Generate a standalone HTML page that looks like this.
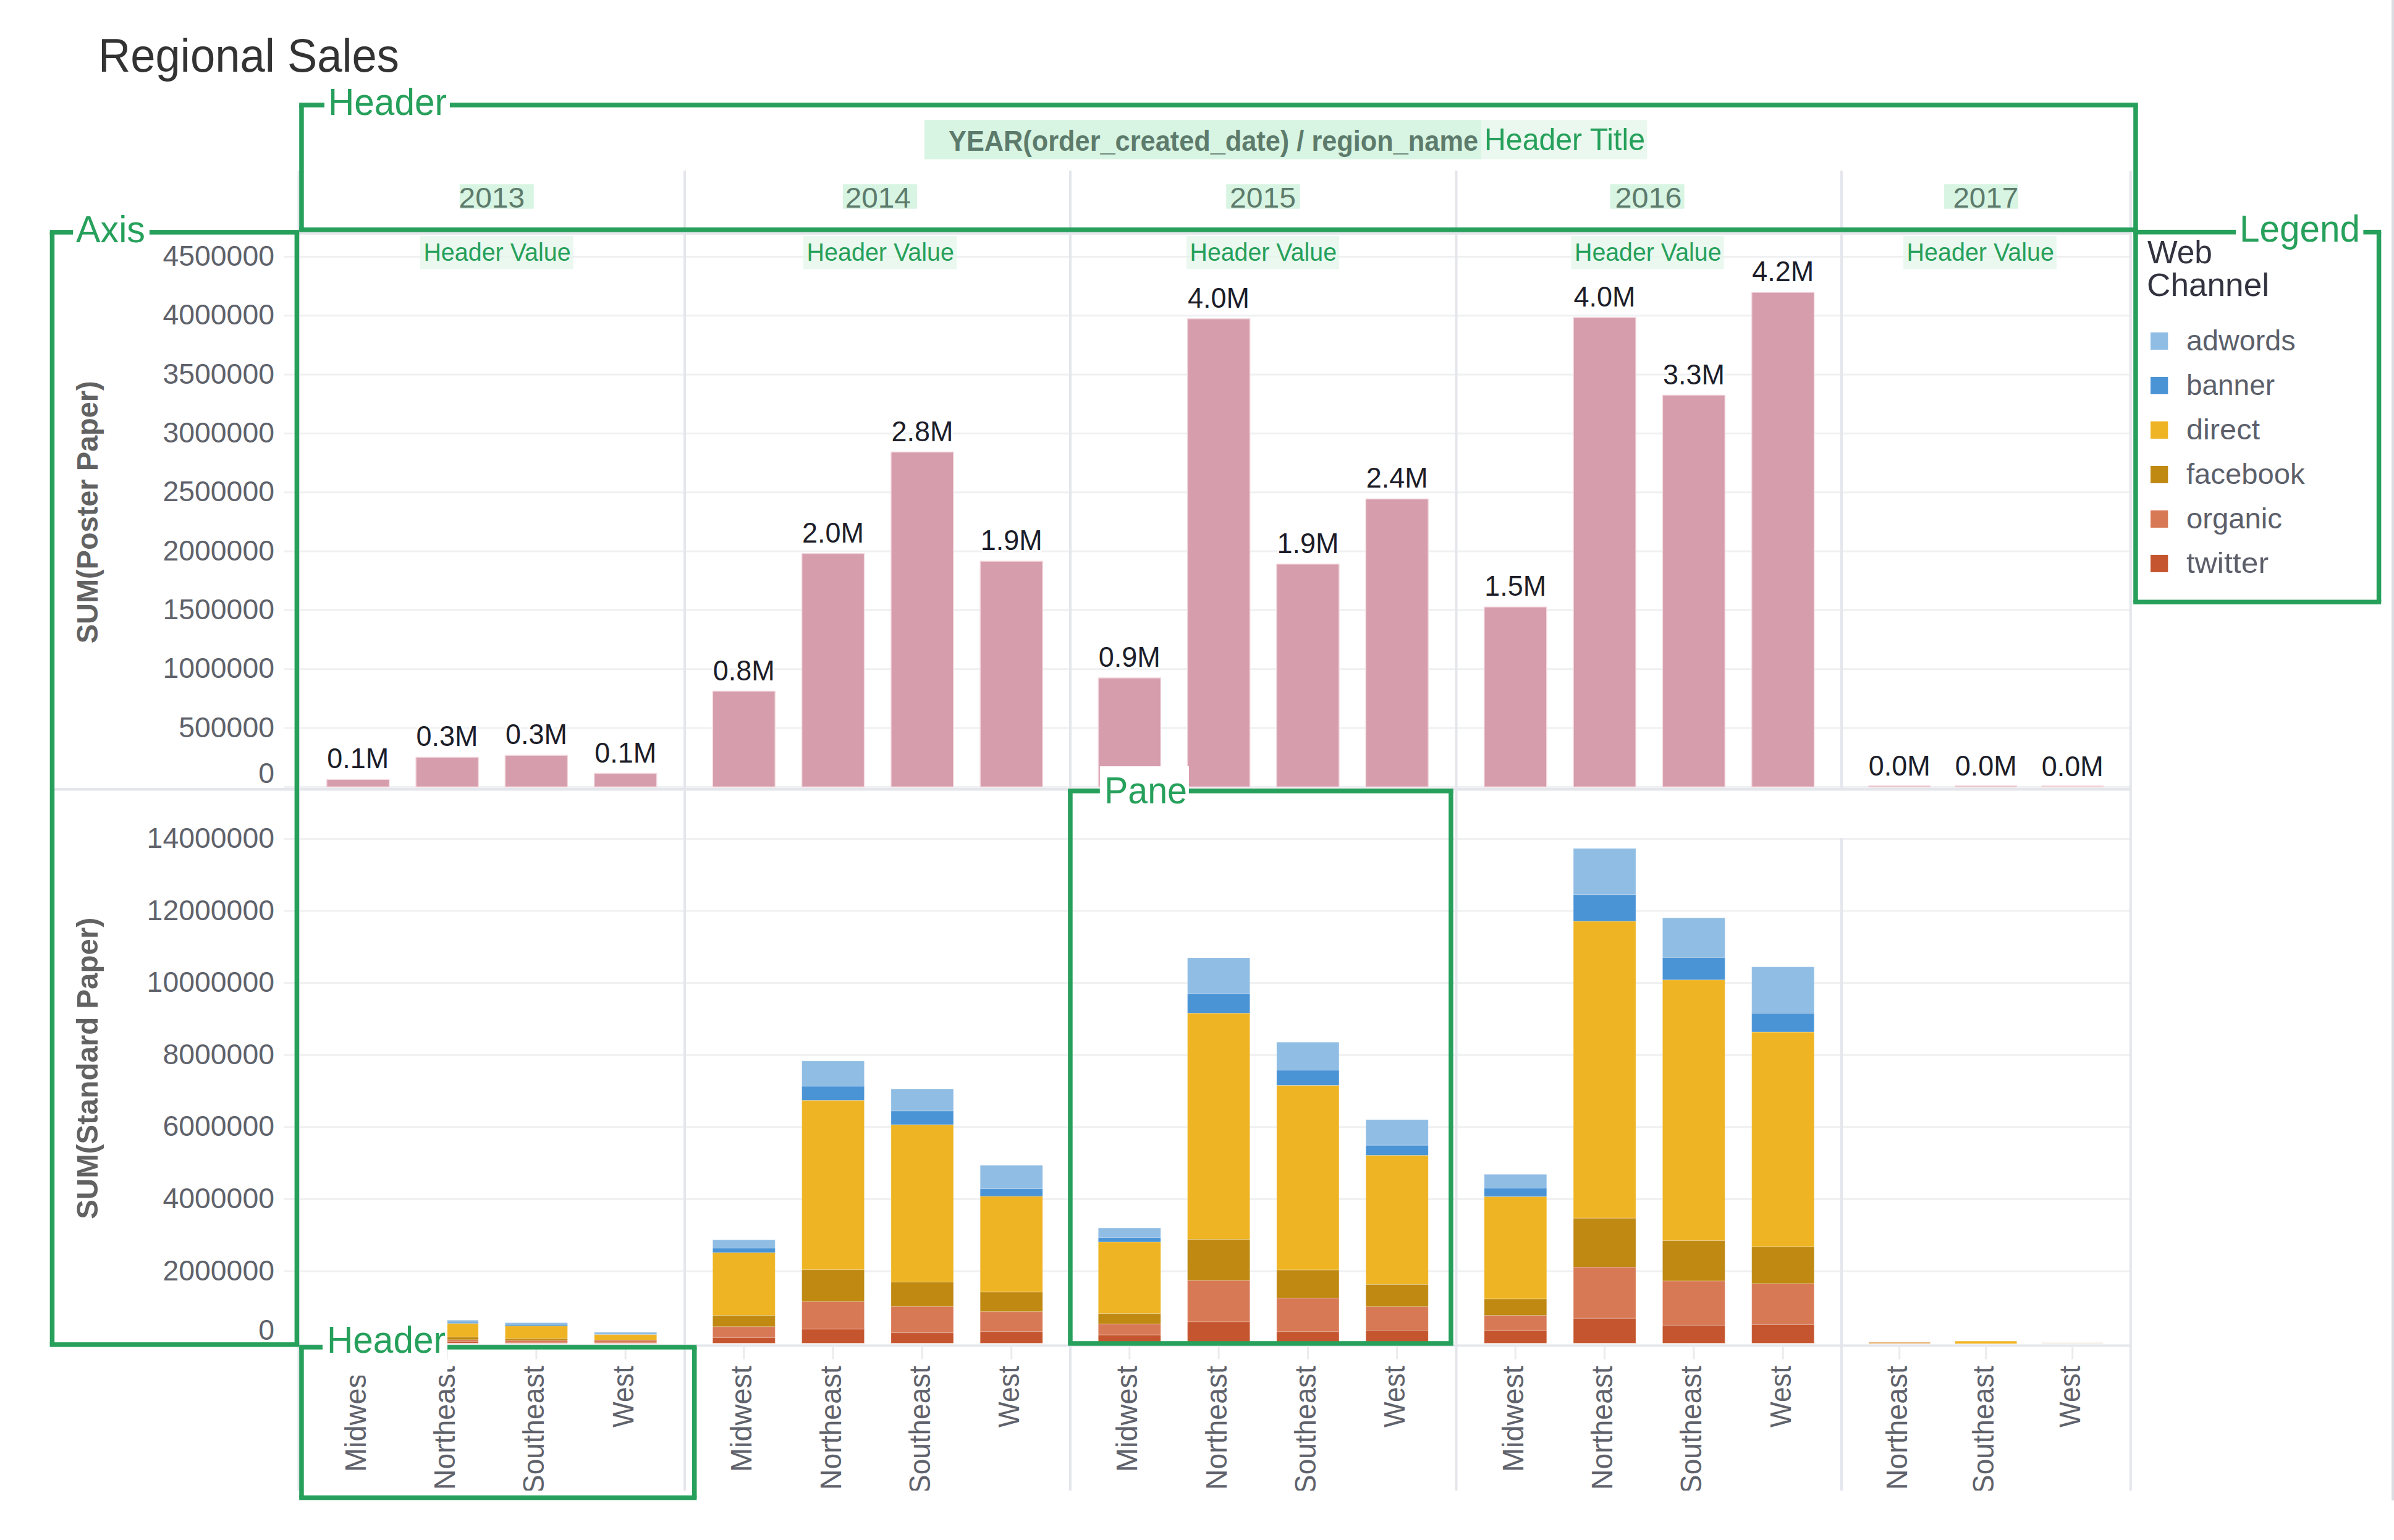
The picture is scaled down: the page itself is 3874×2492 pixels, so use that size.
<!DOCTYPE html>
<html><head><meta charset="utf-8"><title>Regional Sales</title>
<style>
html,body{margin:0;padding:0;background:#ffffff;}
body{width:3874px;height:2492px;overflow:hidden;position:relative;}
svg{position:absolute;left:0;top:0;display:block;font-family:"Liberation Sans", sans-serif;}
</style></head><body>
<svg width="3874" height="2492" viewBox="0 0 3874 2492">
<rect x="0" y="0" width="3874" height="2492" fill="#ffffff"/>
<rect x="459.0" y="1176.6" width="2988.0" height="3.0" fill="#eff0f2" />
<rect x="459.0" y="1081.2" width="2988.0" height="3.0" fill="#eff0f2" />
<rect x="459.0" y="985.9" width="2988.0" height="3.0" fill="#eff0f2" />
<rect x="459.0" y="890.6" width="2988.0" height="3.0" fill="#eff0f2" />
<rect x="459.0" y="795.3" width="2988.0" height="3.0" fill="#eff0f2" />
<rect x="459.0" y="699.9" width="2988.0" height="3.0" fill="#eff0f2" />
<rect x="459.0" y="604.6" width="2988.0" height="3.0" fill="#eff0f2" />
<rect x="459.0" y="509.3" width="2988.0" height="3.0" fill="#eff0f2" />
<rect x="459.0" y="413.9" width="2988.0" height="3.0" fill="#eff0f2" />
<rect x="459.0" y="2055.5" width="2988.0" height="3.0" fill="#eff0f2" />
<rect x="459.0" y="1938.9" width="2988.0" height="3.0" fill="#eff0f2" />
<rect x="459.0" y="1822.3" width="2988.0" height="3.0" fill="#eff0f2" />
<rect x="459.0" y="1705.7" width="2988.0" height="3.0" fill="#eff0f2" />
<rect x="459.0" y="1589.1" width="2988.0" height="3.0" fill="#eff0f2" />
<rect x="459.0" y="1472.5" width="2988.0" height="3.0" fill="#eff0f2" />
<rect x="459.0" y="1355.9" width="2988.0" height="3.0" fill="#eff0f2" />
<rect x="459.0" y="1271.9" width="2988.0" height="3.0" fill="#eff0f2" />
<rect x="481.5" y="276.0" width="4.0" height="2136.0" fill="#e4e6eb" />
<rect x="1106.0" y="276.0" width="4.0" height="2136.0" fill="#e4e6eb" />
<rect x="1730.0" y="276.0" width="4.0" height="2136.0" fill="#e4e6eb" />
<rect x="2354.5" y="276.0" width="4.0" height="2136.0" fill="#e4e6eb" />
<rect x="2978.0" y="276.0" width="4.0" height="1001.0" fill="#e4e6eb" />
<rect x="2978.0" y="1356.0" width="4.0" height="1056.0" fill="#e4e6eb" />
<rect x="3445.8" y="276.0" width="4.0" height="2136.0" fill="#e4e6eb" />
<rect x="484.0" y="375.8" width="2964.0" height="4.0" fill="#e4e6eb" />
<rect x="85.0" y="1275.0" width="3363.0" height="4.5" fill="#e4e6eb" />
<rect x="484.0" y="2175.5" width="2964.0" height="3.8" fill="#e4e6eb" />
<rect x="3870.0" y="0.0" width="4.0" height="2428.0" fill="#dcdde2" />
<rect x="528.8" y="1261.3" width="101.0" height="12.1" fill="#d69dac" stroke="#f3d9df" stroke-width="1.5"/>
<rect x="673.1" y="1225.4" width="101.0" height="48.0" fill="#d69dac" stroke="#f3d9df" stroke-width="1.5"/>
<rect x="817.4" y="1222.2" width="101.0" height="51.2" fill="#d69dac" stroke="#f3d9df" stroke-width="1.5"/>
<rect x="961.7" y="1251.5" width="101.0" height="21.9" fill="#d69dac" stroke="#f3d9df" stroke-width="1.5"/>
<rect x="1153.3" y="1118.5" width="101.0" height="154.9" fill="#d69dac" stroke="#f3d9df" stroke-width="1.5"/>
<rect x="1297.6" y="895.8" width="101.0" height="377.6" fill="#d69dac" stroke="#f3d9df" stroke-width="1.5"/>
<rect x="1441.9" y="731.5" width="101.0" height="541.9" fill="#d69dac" stroke="#f3d9df" stroke-width="1.5"/>
<rect x="1586.2" y="908.1" width="101.0" height="365.3" fill="#d69dac" stroke="#f3d9df" stroke-width="1.5"/>
<rect x="1777.3" y="1097.0" width="101.0" height="176.4" fill="#d69dac" stroke="#f3d9df" stroke-width="1.5"/>
<rect x="1921.6" y="515.8" width="101.0" height="757.6" fill="#d69dac" stroke="#f3d9df" stroke-width="1.5"/>
<rect x="2065.9" y="912.7" width="101.0" height="360.7" fill="#d69dac" stroke="#f3d9df" stroke-width="1.5"/>
<rect x="2210.2" y="807.4" width="101.0" height="466.0" fill="#d69dac" stroke="#f3d9df" stroke-width="1.5"/>
<rect x="2401.8" y="982.3" width="101.0" height="291.1" fill="#d69dac" stroke="#f3d9df" stroke-width="1.5"/>
<rect x="2546.1" y="513.8" width="101.0" height="759.6" fill="#d69dac" stroke="#f3d9df" stroke-width="1.5"/>
<rect x="2690.4" y="639.5" width="101.0" height="633.9" fill="#d69dac" stroke="#f3d9df" stroke-width="1.5"/>
<rect x="2834.7" y="473.0" width="101.0" height="800.4" fill="#d69dac" stroke="#f3d9df" stroke-width="1.5"/>
<rect x="3024.0" y="1271.5" width="99.5" height="1.9" fill="#d69dac" stroke="#f3d9df" stroke-width="1.5"/>
<rect x="3164.0" y="1271.5" width="99.5" height="1.9" fill="#d69dac" stroke="#f3d9df" stroke-width="1.5"/>
<rect x="3304.0" y="1271.8" width="99.5" height="1.6" fill="#d69dac" stroke="#f3d9df" stroke-width="1.5"/>
<text x="579.3" y="1243.3" font-size="46" fill="#1c1d29" text-anchor="middle" textLength="100.0" lengthAdjust="spacingAndGlyphs" stroke="#fff" stroke-width="6" paint-order="stroke" stroke-linejoin="round">0.1M</text>
<text x="723.6" y="1207.4" font-size="46" fill="#1c1d29" text-anchor="middle" textLength="100.0" lengthAdjust="spacingAndGlyphs" stroke="#fff" stroke-width="6" paint-order="stroke" stroke-linejoin="round">0.3M</text>
<text x="867.9" y="1204.2" font-size="46" fill="#1c1d29" text-anchor="middle" textLength="100.0" lengthAdjust="spacingAndGlyphs" stroke="#fff" stroke-width="6" paint-order="stroke" stroke-linejoin="round">0.3M</text>
<text x="1012.2" y="1233.5" font-size="46" fill="#1c1d29" text-anchor="middle" textLength="100.0" lengthAdjust="spacingAndGlyphs" stroke="#fff" stroke-width="6" paint-order="stroke" stroke-linejoin="round">0.1M</text>
<text x="1203.8" y="1100.5" font-size="46" fill="#1c1d29" text-anchor="middle" textLength="100.0" lengthAdjust="spacingAndGlyphs" stroke="#fff" stroke-width="6" paint-order="stroke" stroke-linejoin="round">0.8M</text>
<text x="1348.1" y="877.8" font-size="46" fill="#1c1d29" text-anchor="middle" textLength="100.0" lengthAdjust="spacingAndGlyphs" stroke="#fff" stroke-width="6" paint-order="stroke" stroke-linejoin="round">2.0M</text>
<text x="1492.4" y="713.5" font-size="46" fill="#1c1d29" text-anchor="middle" textLength="100.0" lengthAdjust="spacingAndGlyphs" stroke="#fff" stroke-width="6" paint-order="stroke" stroke-linejoin="round">2.8M</text>
<text x="1636.7" y="890.1" font-size="46" fill="#1c1d29" text-anchor="middle" textLength="100.0" lengthAdjust="spacingAndGlyphs" stroke="#fff" stroke-width="6" paint-order="stroke" stroke-linejoin="round">1.9M</text>
<text x="1827.8" y="1079.0" font-size="46" fill="#1c1d29" text-anchor="middle" textLength="100.0" lengthAdjust="spacingAndGlyphs" stroke="#fff" stroke-width="6" paint-order="stroke" stroke-linejoin="round">0.9M</text>
<text x="1972.1" y="497.8" font-size="46" fill="#1c1d29" text-anchor="middle" textLength="100.0" lengthAdjust="spacingAndGlyphs" stroke="#fff" stroke-width="6" paint-order="stroke" stroke-linejoin="round">4.0M</text>
<text x="2116.4" y="894.7" font-size="46" fill="#1c1d29" text-anchor="middle" textLength="100.0" lengthAdjust="spacingAndGlyphs" stroke="#fff" stroke-width="6" paint-order="stroke" stroke-linejoin="round">1.9M</text>
<text x="2260.7" y="789.4" font-size="46" fill="#1c1d29" text-anchor="middle" textLength="100.0" lengthAdjust="spacingAndGlyphs" stroke="#fff" stroke-width="6" paint-order="stroke" stroke-linejoin="round">2.4M</text>
<text x="2452.3" y="964.3" font-size="46" fill="#1c1d29" text-anchor="middle" textLength="100.0" lengthAdjust="spacingAndGlyphs" stroke="#fff" stroke-width="6" paint-order="stroke" stroke-linejoin="round">1.5M</text>
<text x="2596.6" y="495.8" font-size="46" fill="#1c1d29" text-anchor="middle" textLength="100.0" lengthAdjust="spacingAndGlyphs" stroke="#fff" stroke-width="6" paint-order="stroke" stroke-linejoin="round">4.0M</text>
<text x="2740.9" y="621.5" font-size="46" fill="#1c1d29" text-anchor="middle" textLength="100.0" lengthAdjust="spacingAndGlyphs" stroke="#fff" stroke-width="6" paint-order="stroke" stroke-linejoin="round">3.3M</text>
<text x="2885.2" y="455.0" font-size="46" fill="#1c1d29" text-anchor="middle" textLength="100.0" lengthAdjust="spacingAndGlyphs" stroke="#fff" stroke-width="6" paint-order="stroke" stroke-linejoin="round">4.2M</text>
<text x="3073.8" y="1254.5" font-size="46" fill="#1c1d29" text-anchor="middle" textLength="100.0" lengthAdjust="spacingAndGlyphs" stroke="#fff" stroke-width="6" paint-order="stroke" stroke-linejoin="round">0.0M</text>
<text x="3213.8" y="1254.5" font-size="46" fill="#1c1d29" text-anchor="middle" textLength="100.0" lengthAdjust="spacingAndGlyphs" stroke="#fff" stroke-width="6" paint-order="stroke" stroke-linejoin="round">0.0M</text>
<text x="3353.8" y="1256.0" font-size="46" fill="#1c1d29" text-anchor="middle" textLength="100.0" lengthAdjust="spacingAndGlyphs" stroke="#fff" stroke-width="6" paint-order="stroke" stroke-linejoin="round">0.0M</text>
<rect x="673.1" y="2136.3" width="101.0" height="3.3" fill="#90bde4" stroke="rgba(255,255,255,0.22)" stroke-width="1.2"/>
<rect x="673.1" y="2139.6" width="101.0" height="2.2" fill="#4a94d6" stroke="rgba(255,255,255,0.22)" stroke-width="1.2"/>
<rect x="673.1" y="2141.8" width="101.0" height="21.8" fill="#eeb424" stroke="rgba(255,255,255,0.22)" stroke-width="1.2"/>
<rect x="673.1" y="2163.6" width="101.0" height="4.4" fill="#bf8912" stroke="rgba(255,255,255,0.22)" stroke-width="1.2"/>
<rect x="673.1" y="2168.0" width="101.0" height="2.8" fill="#d87956" stroke="rgba(255,255,255,0.22)" stroke-width="1.2"/>
<rect x="673.1" y="2170.8" width="101.0" height="2.8" fill="#c5552e" stroke="rgba(255,255,255,0.22)" stroke-width="1.2"/>
<rect x="817.4" y="2140.4" width="101.0" height="2.8" fill="#90bde4" stroke="rgba(255,255,255,0.22)" stroke-width="1.2"/>
<rect x="817.4" y="2143.2" width="101.0" height="2.5" fill="#4a94d6" stroke="rgba(255,255,255,0.22)" stroke-width="1.2"/>
<rect x="817.4" y="2145.7" width="101.0" height="20.6" fill="#eeb424" stroke="rgba(255,255,255,0.22)" stroke-width="1.2"/>
<rect x="817.4" y="2166.3" width="101.0" height="2.8" fill="#bf8912" stroke="rgba(255,255,255,0.22)" stroke-width="1.2"/>
<rect x="817.4" y="2169.1" width="101.0" height="3.9" fill="#d87956" stroke="rgba(255,255,255,0.22)" stroke-width="1.2"/>
<rect x="817.4" y="2173.0" width="101.0" height="0.6" fill="#c5552e" stroke="rgba(255,255,255,0.22)" stroke-width="1.2"/>
<rect x="961.7" y="2155.9" width="101.0" height="3.8" fill="#90bde4" stroke="rgba(255,255,255,0.22)" stroke-width="1.2"/>
<rect x="961.7" y="2159.7" width="101.0" height="8.9" fill="#eeb424" stroke="rgba(255,255,255,0.22)" stroke-width="1.2"/>
<rect x="961.7" y="2168.6" width="101.0" height="4.4" fill="#d87956" stroke="rgba(255,255,255,0.22)" stroke-width="1.2"/>
<rect x="961.7" y="2173.0" width="101.0" height="0.6" fill="#c5552e" stroke="rgba(255,255,255,0.22)" stroke-width="1.2"/>
<rect x="1153.3" y="2006.2" width="101.0" height="13.5" fill="#90bde4" stroke="rgba(255,255,255,0.22)" stroke-width="1.2"/>
<rect x="1153.3" y="2019.7" width="101.0" height="7.3" fill="#4a94d6" stroke="rgba(255,255,255,0.22)" stroke-width="1.2"/>
<rect x="1153.3" y="2027.0" width="101.0" height="101.7" fill="#eeb424" stroke="rgba(255,255,255,0.22)" stroke-width="1.2"/>
<rect x="1153.3" y="2128.7" width="101.0" height="18.2" fill="#bf8912" stroke="rgba(255,255,255,0.22)" stroke-width="1.2"/>
<rect x="1153.3" y="2146.9" width="101.0" height="17.5" fill="#d87956" stroke="rgba(255,255,255,0.22)" stroke-width="1.2"/>
<rect x="1153.3" y="2164.4" width="101.0" height="9.2" fill="#c5552e" stroke="rgba(255,255,255,0.22)" stroke-width="1.2"/>
<rect x="1297.6" y="1716.8" width="101.0" height="41.0" fill="#90bde4" stroke="rgba(255,255,255,0.22)" stroke-width="1.2"/>
<rect x="1297.6" y="1757.8" width="101.0" height="22.9" fill="#4a94d6" stroke="rgba(255,255,255,0.22)" stroke-width="1.2"/>
<rect x="1297.6" y="1780.7" width="101.0" height="274.1" fill="#eeb424" stroke="rgba(255,255,255,0.22)" stroke-width="1.2"/>
<rect x="1297.6" y="2054.8" width="101.0" height="51.7" fill="#bf8912" stroke="rgba(255,255,255,0.22)" stroke-width="1.2"/>
<rect x="1297.6" y="2106.5" width="101.0" height="44.4" fill="#d87956" stroke="rgba(255,255,255,0.22)" stroke-width="1.2"/>
<rect x="1297.6" y="2150.9" width="101.0" height="22.7" fill="#c5552e" stroke="rgba(255,255,255,0.22)" stroke-width="1.2"/>
<rect x="1441.9" y="1762.1" width="101.0" height="35.8" fill="#90bde4" stroke="rgba(255,255,255,0.22)" stroke-width="1.2"/>
<rect x="1441.9" y="1797.9" width="101.0" height="22.1" fill="#4a94d6" stroke="rgba(255,255,255,0.22)" stroke-width="1.2"/>
<rect x="1441.9" y="1820.0" width="101.0" height="254.7" fill="#eeb424" stroke="rgba(255,255,255,0.22)" stroke-width="1.2"/>
<rect x="1441.9" y="2074.7" width="101.0" height="39.7" fill="#bf8912" stroke="rgba(255,255,255,0.22)" stroke-width="1.2"/>
<rect x="1441.9" y="2114.4" width="101.0" height="42.4" fill="#d87956" stroke="rgba(255,255,255,0.22)" stroke-width="1.2"/>
<rect x="1441.9" y="2156.8" width="101.0" height="16.8" fill="#c5552e" stroke="rgba(255,255,255,0.22)" stroke-width="1.2"/>
<rect x="1586.2" y="1885.6" width="101.0" height="38.1" fill="#90bde4" stroke="rgba(255,255,255,0.22)" stroke-width="1.2"/>
<rect x="1586.2" y="1923.7" width="101.0" height="12.3" fill="#4a94d6" stroke="rgba(255,255,255,0.22)" stroke-width="1.2"/>
<rect x="1586.2" y="1936.0" width="101.0" height="154.9" fill="#eeb424" stroke="rgba(255,255,255,0.22)" stroke-width="1.2"/>
<rect x="1586.2" y="2090.9" width="101.0" height="31.8" fill="#bf8912" stroke="rgba(255,255,255,0.22)" stroke-width="1.2"/>
<rect x="1586.2" y="2122.7" width="101.0" height="32.1" fill="#d87956" stroke="rgba(255,255,255,0.22)" stroke-width="1.2"/>
<rect x="1586.2" y="2154.8" width="101.0" height="18.8" fill="#c5552e" stroke="rgba(255,255,255,0.22)" stroke-width="1.2"/>
<rect x="1777.3" y="1987.1" width="101.0" height="15.5" fill="#90bde4" stroke="rgba(255,255,255,0.22)" stroke-width="1.2"/>
<rect x="1777.3" y="2002.6" width="101.0" height="7.4" fill="#4a94d6" stroke="rgba(255,255,255,0.22)" stroke-width="1.2"/>
<rect x="1777.3" y="2010.0" width="101.0" height="115.7" fill="#eeb424" stroke="rgba(255,255,255,0.22)" stroke-width="1.2"/>
<rect x="1777.3" y="2125.7" width="101.0" height="16.8" fill="#bf8912" stroke="rgba(255,255,255,0.22)" stroke-width="1.2"/>
<rect x="1777.3" y="2142.5" width="101.0" height="17.7" fill="#d87956" stroke="rgba(255,255,255,0.22)" stroke-width="1.2"/>
<rect x="1777.3" y="2160.2" width="101.0" height="13.4" fill="#c5552e" stroke="rgba(255,255,255,0.22)" stroke-width="1.2"/>
<rect x="1921.6" y="1550.0" width="101.0" height="57.9" fill="#90bde4" stroke="rgba(255,255,255,0.22)" stroke-width="1.2"/>
<rect x="1921.6" y="1607.9" width="101.0" height="31.7" fill="#4a94d6" stroke="rgba(255,255,255,0.22)" stroke-width="1.2"/>
<rect x="1921.6" y="1639.6" width="101.0" height="366.1" fill="#eeb424" stroke="rgba(255,255,255,0.22)" stroke-width="1.2"/>
<rect x="1921.6" y="2005.7" width="101.0" height="66.6" fill="#bf8912" stroke="rgba(255,255,255,0.22)" stroke-width="1.2"/>
<rect x="1921.6" y="2072.3" width="101.0" height="66.7" fill="#d87956" stroke="rgba(255,255,255,0.22)" stroke-width="1.2"/>
<rect x="1921.6" y="2139.0" width="101.0" height="34.6" fill="#c5552e" stroke="rgba(255,255,255,0.22)" stroke-width="1.2"/>
<rect x="2065.9" y="1686.4" width="101.0" height="45.5" fill="#90bde4" stroke="rgba(255,255,255,0.22)" stroke-width="1.2"/>
<rect x="2065.9" y="1731.9" width="101.0" height="24.7" fill="#4a94d6" stroke="rgba(255,255,255,0.22)" stroke-width="1.2"/>
<rect x="2065.9" y="1756.6" width="101.0" height="298.5" fill="#eeb424" stroke="rgba(255,255,255,0.22)" stroke-width="1.2"/>
<rect x="2065.9" y="2055.1" width="101.0" height="45.5" fill="#bf8912" stroke="rgba(255,255,255,0.22)" stroke-width="1.2"/>
<rect x="2065.9" y="2100.6" width="101.0" height="54.3" fill="#d87956" stroke="rgba(255,255,255,0.22)" stroke-width="1.2"/>
<rect x="2065.9" y="2154.9" width="101.0" height="18.7" fill="#c5552e" stroke="rgba(255,255,255,0.22)" stroke-width="1.2"/>
<rect x="2210.2" y="1811.8" width="101.0" height="41.5" fill="#90bde4" stroke="rgba(255,255,255,0.22)" stroke-width="1.2"/>
<rect x="2210.2" y="1853.3" width="101.0" height="16.4" fill="#4a94d6" stroke="rgba(255,255,255,0.22)" stroke-width="1.2"/>
<rect x="2210.2" y="1869.7" width="101.0" height="208.8" fill="#eeb424" stroke="rgba(255,255,255,0.22)" stroke-width="1.2"/>
<rect x="2210.2" y="2078.5" width="101.0" height="36.2" fill="#bf8912" stroke="rgba(255,255,255,0.22)" stroke-width="1.2"/>
<rect x="2210.2" y="2114.7" width="101.0" height="38.0" fill="#d87956" stroke="rgba(255,255,255,0.22)" stroke-width="1.2"/>
<rect x="2210.2" y="2152.7" width="101.0" height="20.9" fill="#c5552e" stroke="rgba(255,255,255,0.22)" stroke-width="1.2"/>
<rect x="2401.8" y="1900.3" width="101.0" height="22.4" fill="#90bde4" stroke="rgba(255,255,255,0.22)" stroke-width="1.2"/>
<rect x="2401.8" y="1922.7" width="101.0" height="13.9" fill="#4a94d6" stroke="rgba(255,255,255,0.22)" stroke-width="1.2"/>
<rect x="2401.8" y="1936.6" width="101.0" height="165.4" fill="#eeb424" stroke="rgba(255,255,255,0.22)" stroke-width="1.2"/>
<rect x="2401.8" y="2102.0" width="101.0" height="26.8" fill="#bf8912" stroke="rgba(255,255,255,0.22)" stroke-width="1.2"/>
<rect x="2401.8" y="2128.8" width="101.0" height="24.6" fill="#d87956" stroke="rgba(255,255,255,0.22)" stroke-width="1.2"/>
<rect x="2401.8" y="2153.4" width="101.0" height="20.2" fill="#c5552e" stroke="rgba(255,255,255,0.22)" stroke-width="1.2"/>
<rect x="2546.1" y="1373.0" width="101.0" height="74.8" fill="#90bde4" stroke="rgba(255,255,255,0.22)" stroke-width="1.2"/>
<rect x="2546.1" y="1447.8" width="101.0" height="43.0" fill="#4a94d6" stroke="rgba(255,255,255,0.22)" stroke-width="1.2"/>
<rect x="2546.1" y="1490.8" width="101.0" height="480.5" fill="#eeb424" stroke="rgba(255,255,255,0.22)" stroke-width="1.2"/>
<rect x="2546.1" y="1971.3" width="101.0" height="79.3" fill="#bf8912" stroke="rgba(255,255,255,0.22)" stroke-width="1.2"/>
<rect x="2546.1" y="2050.6" width="101.0" height="82.7" fill="#d87956" stroke="rgba(255,255,255,0.22)" stroke-width="1.2"/>
<rect x="2546.1" y="2133.3" width="101.0" height="40.3" fill="#c5552e" stroke="rgba(255,255,255,0.22)" stroke-width="1.2"/>
<rect x="2690.4" y="1485.3" width="101.0" height="64.2" fill="#90bde4" stroke="rgba(255,255,255,0.22)" stroke-width="1.2"/>
<rect x="2690.4" y="1549.5" width="101.0" height="36.3" fill="#4a94d6" stroke="rgba(255,255,255,0.22)" stroke-width="1.2"/>
<rect x="2690.4" y="1585.8" width="101.0" height="421.8" fill="#eeb424" stroke="rgba(255,255,255,0.22)" stroke-width="1.2"/>
<rect x="2690.4" y="2007.6" width="101.0" height="65.4" fill="#bf8912" stroke="rgba(255,255,255,0.22)" stroke-width="1.2"/>
<rect x="2690.4" y="2073.0" width="101.0" height="71.5" fill="#d87956" stroke="rgba(255,255,255,0.22)" stroke-width="1.2"/>
<rect x="2690.4" y="2144.5" width="101.0" height="29.1" fill="#c5552e" stroke="rgba(255,255,255,0.22)" stroke-width="1.2"/>
<rect x="2834.7" y="1564.6" width="101.0" height="75.4" fill="#90bde4" stroke="rgba(255,255,255,0.22)" stroke-width="1.2"/>
<rect x="2834.7" y="1640.0" width="101.0" height="30.2" fill="#4a94d6" stroke="rgba(255,255,255,0.22)" stroke-width="1.2"/>
<rect x="2834.7" y="1670.2" width="101.0" height="347.5" fill="#eeb424" stroke="rgba(255,255,255,0.22)" stroke-width="1.2"/>
<rect x="2834.7" y="2017.7" width="101.0" height="59.7" fill="#bf8912" stroke="rgba(255,255,255,0.22)" stroke-width="1.2"/>
<rect x="2834.7" y="2077.4" width="101.0" height="66.0" fill="#d87956" stroke="rgba(255,255,255,0.22)" stroke-width="1.2"/>
<rect x="2834.7" y="2143.4" width="101.0" height="30.2" fill="#c5552e" stroke="rgba(255,255,255,0.22)" stroke-width="1.2"/>
<rect x="3024.0" y="2172.0" width="99.5" height="2.3" fill="#e6b77a" />
<rect x="3164.0" y="2170.3" width="99.5" height="4.0" fill="#eeb424" />
<rect x="3304.0" y="2172.5" width="99.5" height="1.8" fill="#efe9e0" />
<defs><clipPath id="hclip"><rect x="484" y="2180" width="2964" height="232"/></clipPath></defs>
<g clip-path="url(#hclip)">
<rect x="577.8" y="2179.0" width="3.0" height="20.5" fill="#ebebeb" />
<text transform="translate(591.8,2210) rotate(-90)" x="0" y="0" font-size="48" fill="#5f626b" text-anchor="end" textLength="172" lengthAdjust="spacingAndGlyphs">Midwest</text>
<rect x="722.1" y="2179.0" width="3.0" height="20.5" fill="#ebebeb" />
<text transform="translate(736.1,2210) rotate(-90)" x="0" y="0" font-size="48" fill="#5f626b" text-anchor="end" textLength="201" lengthAdjust="spacingAndGlyphs">Northeast</text>
<rect x="866.4" y="2179.0" width="3.0" height="20.5" fill="#ebebeb" />
<text transform="translate(880.4,2210) rotate(-90)" x="0" y="0" font-size="48" fill="#5f626b" text-anchor="end" textLength="207" lengthAdjust="spacingAndGlyphs">Southeast</text>
<rect x="1010.7" y="2179.0" width="3.0" height="20.5" fill="#ebebeb" />
<text transform="translate(1024.7,2210) rotate(-90)" x="0" y="0" font-size="48" fill="#5f626b" text-anchor="end" textLength="100" lengthAdjust="spacingAndGlyphs">West</text>
<rect x="1202.3" y="2179.0" width="3.0" height="20.5" fill="#ebebeb" />
<text transform="translate(1216.3,2210) rotate(-90)" x="0" y="0" font-size="48" fill="#5f626b" text-anchor="end" textLength="172" lengthAdjust="spacingAndGlyphs">Midwest</text>
<rect x="1346.6" y="2179.0" width="3.0" height="20.5" fill="#ebebeb" />
<text transform="translate(1360.6,2210) rotate(-90)" x="0" y="0" font-size="48" fill="#5f626b" text-anchor="end" textLength="201" lengthAdjust="spacingAndGlyphs">Northeast</text>
<rect x="1490.9" y="2179.0" width="3.0" height="20.5" fill="#ebebeb" />
<text transform="translate(1504.9,2210) rotate(-90)" x="0" y="0" font-size="48" fill="#5f626b" text-anchor="end" textLength="207" lengthAdjust="spacingAndGlyphs">Southeast</text>
<rect x="1635.2" y="2179.0" width="3.0" height="20.5" fill="#ebebeb" />
<text transform="translate(1649.2,2210) rotate(-90)" x="0" y="0" font-size="48" fill="#5f626b" text-anchor="end" textLength="100" lengthAdjust="spacingAndGlyphs">West</text>
<rect x="1826.3" y="2179.0" width="3.0" height="20.5" fill="#ebebeb" />
<text transform="translate(1840.3,2210) rotate(-90)" x="0" y="0" font-size="48" fill="#5f626b" text-anchor="end" textLength="172" lengthAdjust="spacingAndGlyphs">Midwest</text>
<rect x="1970.6" y="2179.0" width="3.0" height="20.5" fill="#ebebeb" />
<text transform="translate(1984.6,2210) rotate(-90)" x="0" y="0" font-size="48" fill="#5f626b" text-anchor="end" textLength="201" lengthAdjust="spacingAndGlyphs">Northeast</text>
<rect x="2114.9" y="2179.0" width="3.0" height="20.5" fill="#ebebeb" />
<text transform="translate(2128.9,2210) rotate(-90)" x="0" y="0" font-size="48" fill="#5f626b" text-anchor="end" textLength="207" lengthAdjust="spacingAndGlyphs">Southeast</text>
<rect x="2259.2" y="2179.0" width="3.0" height="20.5" fill="#ebebeb" />
<text transform="translate(2273.2,2210) rotate(-90)" x="0" y="0" font-size="48" fill="#5f626b" text-anchor="end" textLength="100" lengthAdjust="spacingAndGlyphs">West</text>
<rect x="2450.8" y="2179.0" width="3.0" height="20.5" fill="#ebebeb" />
<text transform="translate(2464.8,2210) rotate(-90)" x="0" y="0" font-size="48" fill="#5f626b" text-anchor="end" textLength="172" lengthAdjust="spacingAndGlyphs">Midwest</text>
<rect x="2595.1" y="2179.0" width="3.0" height="20.5" fill="#ebebeb" />
<text transform="translate(2609.1,2210) rotate(-90)" x="0" y="0" font-size="48" fill="#5f626b" text-anchor="end" textLength="201" lengthAdjust="spacingAndGlyphs">Northeast</text>
<rect x="2739.4" y="2179.0" width="3.0" height="20.5" fill="#ebebeb" />
<text transform="translate(2753.4,2210) rotate(-90)" x="0" y="0" font-size="48" fill="#5f626b" text-anchor="end" textLength="207" lengthAdjust="spacingAndGlyphs">Southeast</text>
<rect x="2883.7" y="2179.0" width="3.0" height="20.5" fill="#ebebeb" />
<text transform="translate(2897.7,2210) rotate(-90)" x="0" y="0" font-size="48" fill="#5f626b" text-anchor="end" textLength="100" lengthAdjust="spacingAndGlyphs">West</text>
<rect x="3072.2" y="2179.0" width="3.0" height="20.5" fill="#ebebeb" />
<text transform="translate(3086.2,2210) rotate(-90)" x="0" y="0" font-size="48" fill="#5f626b" text-anchor="end" textLength="201" lengthAdjust="spacingAndGlyphs">Northeast</text>
<rect x="3212.2" y="2179.0" width="3.0" height="20.5" fill="#ebebeb" />
<text transform="translate(3226.2,2210) rotate(-90)" x="0" y="0" font-size="48" fill="#5f626b" text-anchor="end" textLength="207" lengthAdjust="spacingAndGlyphs">Southeast</text>
<rect x="3352.2" y="2179.0" width="3.0" height="20.5" fill="#ebebeb" />
<text transform="translate(3366.2,2210) rotate(-90)" x="0" y="0" font-size="48" fill="#5f626b" text-anchor="end" textLength="100" lengthAdjust="spacingAndGlyphs">West</text>
</g>
<text x="444.0" y="1267.0" font-size="46.4" fill="#5f626b" text-anchor="end" >0</text>
<text x="444.0" y="1192.6" font-size="46.4" fill="#5f626b" text-anchor="end" >500000</text>
<text x="444.0" y="1097.2" font-size="46.4" fill="#5f626b" text-anchor="end" >1000000</text>
<text x="444.0" y="1001.9" font-size="46.4" fill="#5f626b" text-anchor="end" >1500000</text>
<text x="444.0" y="906.6" font-size="46.4" fill="#5f626b" text-anchor="end" >2000000</text>
<text x="444.0" y="811.3" font-size="46.4" fill="#5f626b" text-anchor="end" >2500000</text>
<text x="444.0" y="715.9" font-size="46.4" fill="#5f626b" text-anchor="end" >3000000</text>
<text x="444.0" y="620.6" font-size="46.4" fill="#5f626b" text-anchor="end" >3500000</text>
<text x="444.0" y="525.3" font-size="46.4" fill="#5f626b" text-anchor="end" >4000000</text>
<text x="444.0" y="429.9" font-size="46.4" fill="#5f626b" text-anchor="end" >4500000</text>
<text x="444.0" y="2168.0" font-size="46.4" fill="#5f626b" text-anchor="end" >0</text>
<text x="444.0" y="2071.5" font-size="46.4" fill="#5f626b" text-anchor="end" >2000000</text>
<text x="444.0" y="1954.9" font-size="46.4" fill="#5f626b" text-anchor="end" >4000000</text>
<text x="444.0" y="1838.3" font-size="46.4" fill="#5f626b" text-anchor="end" >6000000</text>
<text x="444.0" y="1721.7" font-size="46.4" fill="#5f626b" text-anchor="end" >8000000</text>
<text x="444.0" y="1605.1" font-size="46.4" fill="#5f626b" text-anchor="end" >10000000</text>
<text x="444.0" y="1488.5" font-size="46.4" fill="#5f626b" text-anchor="end" >12000000</text>
<text x="444.0" y="1371.9" font-size="46.4" fill="#5f626b" text-anchor="end" >14000000</text>
<text transform="translate(158.2,828.8) rotate(-90)" font-size="49" font-weight="bold" fill="#626262" text-anchor="middle" textLength="425" lengthAdjust="spacingAndGlyphs">SUM(Poster Paper)</text>
<text transform="translate(158.2,1728.8) rotate(-90)" font-size="49" font-weight="bold" fill="#626262" text-anchor="middle" textLength="488" lengthAdjust="spacingAndGlyphs">SUM(Standard Paper)</text>
<text x="159.0" y="116.0" font-size="76" fill="#333333" textLength="487.0" lengthAdjust="spacingAndGlyphs" >Regional Sales</text>
<rect x="1496.0" y="194.2" width="901.6" height="63.5" fill="#d8f4e2" />
<rect x="2397.6" y="194.2" width="267.7" height="63.5" fill="#eaf8ef" />
<text x="1535.0" y="244.2" font-size="47" fill="#5d7b6c" font-weight="bold" textLength="857.0" lengthAdjust="spacingAndGlyphs" >YEAR(order_created_date) / region_name</text>
<text x="2402.0" y="242.5" font-size="50" fill="#26a05b" textLength="260.0" lengthAdjust="spacingAndGlyphs" >Header Title</text>
<rect x="743.8" y="298.2" width="119.9" height="39.5" fill="#d8f4e2" />
<text x="742.6" y="336.3" font-size="46" fill="#5d7b6c" textLength="106.4" lengthAdjust="spacingAndGlyphs" >2013</text>
<rect x="1364.1" y="298.2" width="119.7" height="39.5" fill="#d8f4e2" />
<text x="1367.7" y="336.3" font-size="46" fill="#5d7b6c" textLength="106.1" lengthAdjust="spacingAndGlyphs" >2014</text>
<rect x="1984.3" y="298.2" width="119.5" height="39.5" fill="#d8f4e2" />
<text x="1990.0" y="336.3" font-size="46" fill="#5d7b6c" textLength="107.0" lengthAdjust="spacingAndGlyphs" >2015</text>
<rect x="2605.6" y="298.2" width="120.0" height="39.5" fill="#d8f4e2" />
<text x="2613.4" y="336.3" font-size="46" fill="#5d7b6c" textLength="108.2" lengthAdjust="spacingAndGlyphs" >2016</text>
<rect x="3146.1" y="298.2" width="119.7" height="39.5" fill="#d8f4e2" />
<text x="3160.4" y="336.3" font-size="46" fill="#5d7b6c" textLength="105.9" lengthAdjust="spacingAndGlyphs" >2017</text>
<rect x="679.9" y="382.2" width="247.7" height="53.4" fill="#e3f6ea" fill-opacity="0.75"/>
<text x="685.4" y="422.2" font-size="41" fill="#26a05b" textLength="238.2" lengthAdjust="spacingAndGlyphs" >Header Value</text>
<rect x="1300.0" y="382.2" width="248.0" height="53.4" fill="#e3f6ea" fill-opacity="0.75"/>
<text x="1305.5" y="422.2" font-size="41" fill="#26a05b" textLength="238.5" lengthAdjust="spacingAndGlyphs" >Header Value</text>
<rect x="1920.0" y="382.2" width="247.0" height="53.4" fill="#e3f6ea" fill-opacity="0.75"/>
<text x="1925.5" y="422.2" font-size="41" fill="#26a05b" textLength="237.5" lengthAdjust="spacingAndGlyphs" >Header Value</text>
<rect x="2542.5" y="382.2" width="247.0" height="53.4" fill="#e3f6ea" fill-opacity="0.75"/>
<text x="2548.0" y="422.2" font-size="41" fill="#26a05b" textLength="237.5" lengthAdjust="spacingAndGlyphs" >Header Value</text>
<rect x="3080.1" y="382.2" width="247.8" height="53.4" fill="#e3f6ea" fill-opacity="0.75"/>
<text x="3085.6" y="422.2" font-size="41" fill="#26a05b" textLength="238.3" lengthAdjust="spacingAndGlyphs" >Header Value</text>
<text x="3475.0" y="425.7" font-size="51" fill="#333340" textLength="105.0" lengthAdjust="spacingAndGlyphs" >Web</text>
<text x="3474.0" y="479.1" font-size="51" fill="#333340" textLength="198.0" lengthAdjust="spacingAndGlyphs" >Channel</text>
<rect x="3480.0" y="537.9" width="28.3" height="28.0" fill="#90bde4" />
<text x="3538.0" y="567.4" font-size="47" fill="#5c5f6a" textLength="176.5" lengthAdjust="spacingAndGlyphs" >adwords</text>
<rect x="3480.0" y="609.9" width="28.3" height="28.0" fill="#4a94d6" />
<text x="3538.0" y="639.4" font-size="47" fill="#5c5f6a" textLength="143.0" lengthAdjust="spacingAndGlyphs" >banner</text>
<rect x="3480.0" y="681.9" width="28.3" height="28.0" fill="#eeb424" />
<text x="3538.0" y="711.4" font-size="47" fill="#5c5f6a" textLength="119.0" lengthAdjust="spacingAndGlyphs" >direct</text>
<rect x="3480.0" y="753.9" width="28.3" height="28.0" fill="#bf8912" />
<text x="3538.0" y="783.4" font-size="47" fill="#5c5f6a" textLength="191.5" lengthAdjust="spacingAndGlyphs" >facebook</text>
<rect x="3480.0" y="825.9" width="28.3" height="28.0" fill="#d87956" />
<text x="3538.0" y="855.4" font-size="47" fill="#5c5f6a" textLength="155.0" lengthAdjust="spacingAndGlyphs" >organic</text>
<rect x="3480.0" y="897.9" width="28.3" height="28.0" fill="#c5552e" />
<text x="3538.0" y="927.4" font-size="47" fill="#5c5f6a" textLength="133.0" lengthAdjust="spacingAndGlyphs" >twitter</text>
<rect x="484.2" y="166.2" width="2975.5" height="7.5" fill="#26a05b" />
<rect x="484.2" y="368.1" width="2975.5" height="7.5" fill="#26a05b" />
<rect x="484.2" y="170.0" width="7.5" height="201.8" fill="#26a05b" />
<rect x="3452.2" y="170.0" width="7.5" height="201.8" fill="#26a05b" />
<rect x="80.7" y="372.1" width="403.5" height="7.5" fill="#26a05b" />
<rect x="80.7" y="2172.1" width="403.5" height="7.5" fill="#26a05b" />
<rect x="80.7" y="375.8" width="7.5" height="1800.0" fill="#26a05b" />
<rect x="476.6" y="375.8" width="7.5" height="1800.0" fill="#26a05b" />
<rect x="3452.2" y="371.9" width="401.0" height="7.5" fill="#26a05b" />
<rect x="3452.2" y="970.5" width="401.0" height="7.5" fill="#26a05b" />
<rect x="3452.2" y="375.6" width="7.5" height="598.7" fill="#26a05b" />
<rect x="3845.8" y="375.6" width="7.5" height="598.7" fill="#26a05b" />
<rect x="1728.2" y="1276.2" width="623.5" height="7.5" fill="#26a05b" />
<rect x="1728.2" y="2170.2" width="623.5" height="7.5" fill="#26a05b" />
<rect x="1728.2" y="1280.0" width="7.5" height="894.0" fill="#26a05b" />
<rect x="2344.2" y="1280.0" width="7.5" height="894.0" fill="#26a05b" />
<rect x="484.2" y="2176.2" width="643.2" height="7.5" fill="#26a05b" />
<rect x="484.2" y="2419.8" width="643.2" height="7.5" fill="#26a05b" />
<rect x="484.2" y="2180.0" width="7.5" height="243.5" fill="#26a05b" />
<rect x="1120.0" y="2180.0" width="7.5" height="243.5" fill="#26a05b" />
<rect x="525.0" y="125.0" width="203.0" height="97.0" fill="#ffffff" />
<text x="531.0" y="185.6" font-size="62" fill="#26a05b" textLength="192.0" lengthAdjust="spacingAndGlyphs" >Header</text>
<rect x="118.2" y="331.0" width="123.7" height="97.0" fill="#ffffff" />
<text x="123.0" y="391.7" font-size="62" fill="#26a05b" textLength="112.0" lengthAdjust="spacingAndGlyphs" >Axis</text>
<rect x="3618.0" y="331.0" width="206.4" height="97.0" fill="#ffffff" />
<text x="3624.0" y="390.9" font-size="62" fill="#26a05b" textLength="195.0" lengthAdjust="spacingAndGlyphs" >Legend</text>
<rect x="1779.8" y="1240.0" width="144.2" height="97.0" fill="#ffffff" />
<text x="1787.0" y="1299.9" font-size="62" fill="#26a05b" textLength="134.0" lengthAdjust="spacingAndGlyphs" >Pane</text>
<rect x="522.0" y="2130.0" width="202.0" height="96.0" fill="#ffffff" />
<text x="529.0" y="2189.2" font-size="62" fill="#26a05b" textLength="192.0" lengthAdjust="spacingAndGlyphs" >Header</text>
</svg>
</body></html>
